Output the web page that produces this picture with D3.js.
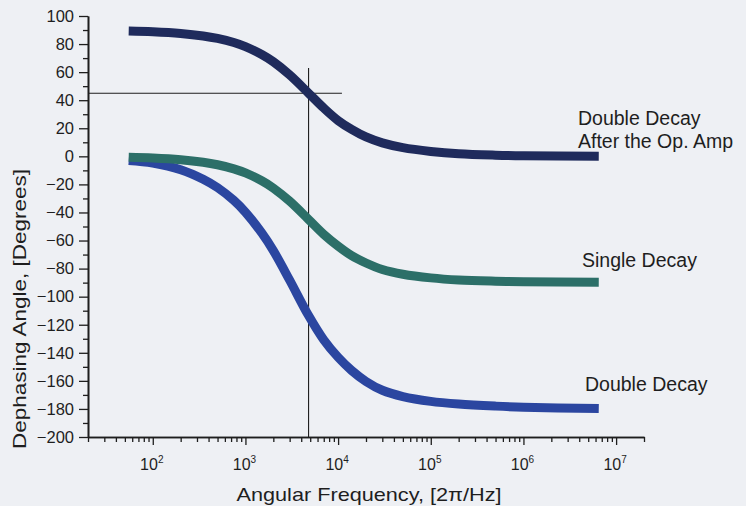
<!DOCTYPE html>
<html>
<head>
<meta charset="utf-8">
<script src="https://cdn.jsdelivr.net/npm/d3@7"></script>
<style>
  html, body { margin: 0; padding: 0; background: #eef0f4; }
  svg { display: block; }
  text { font-family: "Liberation Sans", Arial, Helvetica, sans-serif; fill: #1e1e1e; }
</style>
</head>
<body>
<svg id="chart" width="746" height="506"></svg>
<script>
// Angular frequencies at which the phase responses are sampled
const omega = [55, 100, 200, 350, 500, 750, 1000, 1500, 2000, 3000, 4800, 7000,
               1e4, 1.4e4, 2e4, 3e4, 5e4, 1e5, 2e5, 5e5, 1e6, 6.5e6];

// Phase (degrees) of each network
const afterOpAmp = [89.3, 88.8, 87.6, 85.8, 84.0, 81.1, 78.2, 72.6, 67.4, 58.0, 45.0, 34.4,
                    25.5, 19.2, 13.8, 9.6, 6.2, 3.5, 1.8, 0.8, 0.4, 0.1];
const singleDecay = [-0.7, -1.2, -2.4, -4.2, -6.0, -8.9, -11.8, -17.4, -22.6, -32.0, -45.0, -55.6,
                     -64.0, -70.8, -76.0, -80.6, -84.0, -86.6, -88.1, -89.0, -89.4, -89.8];
const doubleDecay = [-3.0, -4.8, -9.5, -16.3, -22.3, -31.4, -39.8, -54.6, -67.2, -88.2, -113.5, -130.8,
                     -143.2, -152.6, -160.4, -166.7, -171.2, -174.6, -176.5, -178.0, -178.8, -179.7];

// Axis ticks
const yMajorTicks = d3.range(-200, 101, 20);
const yMinorTicks = d3.range(-190, 100, 20);
const xMajorExponents = [2, 3, 4, 5, 6, 7];

// Crossing marker: cut-off frequency and 45 degree phase
const cutoffOmega = 4800;
const cutoffPhase = 45;
const markerTopPhase = 63;
const markerRightOmega = 1.1e4;

const svg = d3.select("#chart");
svg.append("rect").attr("width", 746).attr("height", 506).attr("fill", "#eef0f4");

const x = d3.scaleLog().domain([20, 2e7]).range([88, 644]);
const y = d3.scaleLinear().domain([-200, 100]).range([437, 16]);

const ink = "#1e1e1e";

// Minor log ticks (2..9 of each decade) inside the domain
const xMinorTicks = [];
for (let e = 1; e <= 7; e++) {
  for (let m = 2; m <= 9; m++) {
    const v = m * Math.pow(10, e);
    if (v >= 20 && v <= 2e7) xMinorTicks.push(v);
  }
}

// X axis
const gx = svg.append("g").attr("transform", `translate(0,${y(-200)})`);
gx.call(d3.axisBottom(x).tickValues(xMinorTicks).tickSize(5).tickFormat("").tickSizeOuter(0));
gx.append("g").call(d3.axisBottom(x).tickValues(xMajorExponents.map(e => Math.pow(10, e)))
  .tickSize(8).tickFormat("").tickSizeOuter(0));
gx.selectAll("path.domain").attr("stroke", ink).attr("stroke-width", 1.6);
gx.selectAll(".tick line").attr("stroke", ink).attr("stroke-width", 1.3);

// X tick labels as 10 with a superscript exponent
const xl = svg.append("g");
xMajorExponents.forEach(e => {
  const t = xl.append("text")
    .attr("x", x(Math.pow(10, e)) - 1)
    .attr("y", 470)
    .attr("text-anchor", "middle")
    .attr("font-size", 16);
  t.append("tspan").text("10");
  t.append("tspan").attr("font-size", 10).attr("dy", -7).text(e);
});

// Y axis
const gy = svg.append("g").attr("transform", `translate(${x(20)},0)`);
gy.call(d3.axisLeft(y).tickValues(yMinorTicks).tickSize(5).tickFormat("").tickSizeOuter(0));
gy.append("g").call(d3.axisLeft(y).tickValues(yMajorTicks).tickSize(9).tickPadding(5)
  .tickFormat(d3.format("d")).tickSizeOuter(0));
gy.selectAll("path.domain").attr("stroke", ink).attr("stroke-width", 1.6);
gy.selectAll(".tick line").attr("stroke", ink).attr("stroke-width", 1.3);
gy.selectAll(".tick text").attr("font-size", 16.5).attr("fill", ink)
  .style("font-family", "'Liberation Sans', Arial, sans-serif");

// Axis titles
svg.append("text")
  .attr("x", 369).attr("y", 501)
  .attr("text-anchor", "middle")
  .attr("font-size", 19)
  .attr("textLength", 265).attr("lengthAdjust", "spacingAndGlyphs")
  .text("Angular Frequency, [2\u03c0/Hz]");

svg.append("text")
  .attr("transform", "translate(26,309) rotate(-90)")
  .attr("text-anchor", "middle")
  .attr("font-size", 19)
  .attr("textLength", 280).attr("lengthAdjust", "spacingAndGlyphs")
  .text("Dephasing Angle, [Degrees]");

// Marker lines at the cut-off
svg.append("line")
  .attr("x1", x(20)).attr("x2", x(markerRightOmega))
  .attr("y1", y(cutoffPhase)).attr("y2", y(cutoffPhase))
  .attr("stroke", ink).attr("stroke-width", 1.1);
svg.append("line")
  .attr("x1", x(cutoffOmega)).attr("x2", x(cutoffOmega))
  .attr("y1", y(markerTopPhase)).attr("y2", y(-200))
  .attr("stroke", ink).attr("stroke-width", 1.1);

// Phase curves
const line = d3.line()
  .x((d, i) => x(omega[i]))
  .y(d => y(d))
  .curve(d3.curveCatmullRom.alpha(0.5));

const series = [
  { values: doubleDecay, color: "#2b46a0" },
  { values: singleDecay, color: "#2c6f68" },
  { values: afterOpAmp, color: "#1f2b5c" }
];

svg.append("g").selectAll("path")
  .data(series)
  .join("path")
  .attr("d", s => line(s.values))
  .attr("fill", "none")
  .attr("stroke", s => s.color)
  .attr("stroke-width", 9)
  .attr("stroke-linecap", "butt");

// Curve labels
const labels = [
  { lines: ["Double Decay", "After the Op. Amp"], x: 578, y: 125 },
  { lines: ["Single Decay"], x: 582, y: 267 },
  { lines: ["Double Decay"], x: 585, y: 391 }
];
labels.forEach(l => {
  const t = svg.append("text").attr("font-size", 19.5);
  l.lines.forEach((s, i) => {
    t.append("tspan").attr("x", l.x).attr("y", l.y + i * 23).text(s);
  });
});
</script>
</body>
</html>
